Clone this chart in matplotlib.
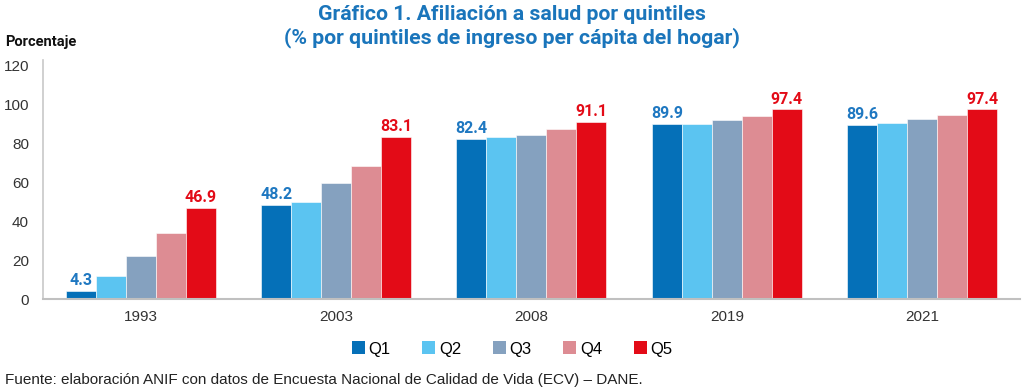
import matplotlib

matplotlib.use("Agg")

import matplotlib.pyplot as plt
import numpy as np
from matplotlib.patches import Patch

years = ["1993", "2003", "2008", "2019", "2021"]
quintiles = ["Q1", "Q2", "Q3", "Q4", "Q5"]
q1 = [4.3, 48.2, 82.4, 89.9, 89.6]
q2 = [11.8, 49.6, 83.5, 90.0, 90.4]
q3 = [21.9, 59.4, 84.1, 92.0, 92.5]
q4 = [34.0, 68.1, 87.1, 94.1, 94.6]
q5 = [46.9, 83.1, 91.1, 97.4, 97.4]
series = [q1, q2, q3, q4, q5]
colors = ["#0570b8", "#5bc4f1", "#85a1bf", "#dd8c93", "#e30b17"]

narrow = ["Roboto", "DejaVu Sans"]
plt.rcParams["font.family"] = ["Liberation Sans", "DejaVu Sans"]

fig = plt.figure(figsize=(10.24, 3.9), dpi=100)
ax = fig.add_axes([0.042, 0.2333, 0.954, 0.6128])

x = np.arange(len(years))
width = 0.1535
for i, (vals, col) in enumerate(zip(series, colors)):
    pos = x + (i - 2) * width
    ax.bar(pos, vals, width, color=col, edgecolor="white", linewidth=0.4, label=quintiles[i])
    if i in (0, 4):
        lab_col = "#1f78c1" if i == 0 else "#e30b17"
        for p, v in zip(pos, vals):
            ax.text(p, v + 1.5, f"{v:.1f}", ha="center", va="bottom", color=lab_col,
                    fontsize=11.5, fontweight="bold", family=narrow)

ax.set_xlim(-0.5, 4.5)
ax.set_ylim(0, 122.8)
ax.set_yticks(range(0, 121, 20))
ax.set_xticks(x)
ax.set_xticklabels(years)
ax.tick_params(axis="both", length=0, labelsize=11, colors="#333333")
ax.tick_params(axis="x", pad=8)
ax.tick_params(axis="y", pad=10)
for s in ["top", "right"]:
    ax.spines[s].set_visible(False)
ax.spines["left"].set_color("#c8c8c8")
ax.spines["bottom"].set_color("#c0c0c0")
ax.spines["left"].set_linewidth(1.2)
ax.spines["bottom"].set_linewidth(1.5)

fig.text(0.5, 0.963, "Gráfico 1. Afiliación a salud por quintiles", ha="center", va="center",
         color="#1a75bb", fontsize=15.3, fontweight="bold", family=narrow)
fig.text(0.5, 0.903, "(% por quintiles de ingreso per cápita del hogar)", ha="center", va="center",
         color="#1a75bb", fontsize=15.3, fontweight="bold", family=narrow)
fig.text(0.005, 0.892, "Porcentaje", ha="left", va="center", color="#111111",
         fontsize=10.5, fontweight="bold", family=narrow)

handles = [Patch(facecolor=c, label=q) for c, q in zip(colors, quintiles)]
fig.legend(handles=handles, loc="center", bbox_to_anchor=(0.5, 0.105), ncol=5, frameon=False,
           fontsize=12, handlelength=0.8, handleheight=0.8, handletextpad=0.2, columnspacing=1.9)

fig.text(0.005, 0.025, "Fuente: elaboración ANIF con datos de Encuesta Nacional de Calidad de Vida (ECV) – DANE.",
         ha="left", va="center", color="#222222", fontsize=11)

fig.savefig("out.png", dpi=100)
plt.close(fig)
